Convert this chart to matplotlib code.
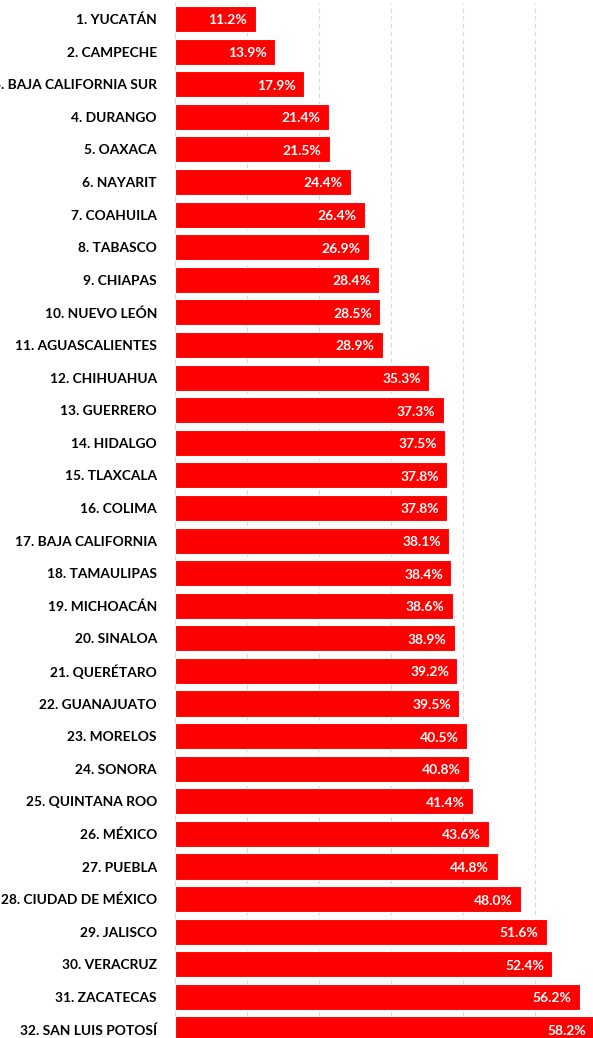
import matplotlib
matplotlib.use("Agg")
import matplotlib.pyplot as plt

states = ["YUCATÁN", "CAMPECHE", "BAJA CALIFORNIA SUR", "DURANGO", "OAXACA", "NAYARIT",
          "COAHUILA", "TABASCO", "CHIAPAS", "NUEVO LEÓN", "AGUASCALIENTES", "CHIHUAHUA",
          "GUERRERO", "HIDALGO", "TLAXCALA", "COLIMA", "BAJA CALIFORNIA", "TAMAULIPAS",
          "MICHOACÁN", "SINALOA", "QUERÉTARO", "GUANAJUATO", "MORELOS", "SONORA",
          "QUINTANA ROO", "MÉXICO", "PUEBLA", "CIUDAD DE MÉXICO", "JALISCO", "VERACRUZ",
          "ZACATECAS", "SAN LUIS POTOSÍ"]
values = [11.2, 13.9, 17.9, 21.4, 21.5, 24.4, 26.4, 26.9, 28.4, 28.5, 28.9, 35.3,
          37.3, 37.5, 37.8, 37.8, 38.1, 38.4, 38.6, 38.9, 39.2, 39.5, 40.5, 40.8,
          41.4, 43.6, 44.8, 48.0, 51.6, 52.4, 56.2, 58.2]
labels = [f"{i+1}. {s}" for i, s in enumerate(states)]
grid_ticks = [0, 10, 20, 30, 40, 50, 60]

W, H = 593, 1038
fig = plt.figure(figsize=(W/100, H/100), dpi=100)
left = 175 / W
right = 607 / W
top_px = 2.7
bot_px = 1045.8
ax = fig.add_axes([left, 1 - bot_px / H, right - left, (bot_px - top_px) / H])

y = list(range(len(values)))
ax.barh(y, values, height=0.8, color="#FF0000", edgecolor="white", linewidth=0.8, zorder=3)
ax.set_xlim(0, 60)
ax.set_ylim(len(values) - 0.5, -0.5)
ax.set_xticks(grid_ticks)
ax.set_xticklabels([])
ax.tick_params(axis="x", length=0)
ax.grid(axis="x", color="#d9d9d9", linestyle=(0, (4, 3)), linewidth=0.8, zorder=0)
ax.set_yticks(y)
ax.set_yticklabels(labels, fontfamily="Lato", fontweight="bold", fontsize=9.9, color="#000000")
ax.tick_params(axis="y", length=0, pad=13)
for s in ["top", "right", "bottom"]:
    ax.spines[s].set_visible(False)
ax.spines["left"].set_color("#d9d9d9")
ax.spines["left"].set_linewidth(0.8)

for yi, v in zip(y, values):
    ax.annotate(f"{v:.1f}%", xy=(v, yi), xytext=(-6, -1), textcoords="offset points",
                ha="right", va="center", color="white", fontfamily="Lato",
                fontweight="bold", fontsize=10, zorder=4)

fig.savefig("out.png", dpi=100)
